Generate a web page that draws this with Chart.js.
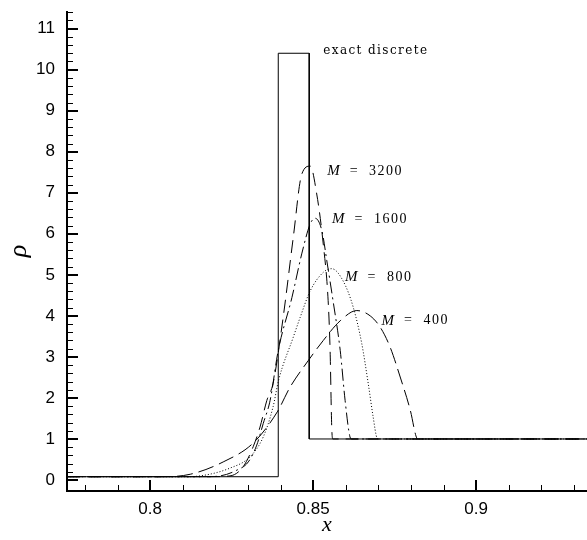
<!DOCTYPE html>
<html>
<head>
<meta charset="utf-8">
<script src="https://cdn.jsdelivr.net/npm/chart.js@4/dist/chart.umd.min.js"></script>
<style>
  html, body { margin: 0; padding: 0; background: #fff; }
  #wrap { width: 587px; height: 540px; }
</style>
</head>
<body>
<div id="wrap"><canvas id="rhoChart" width="587" height="540"></canvas></div>
<script>
// exact discrete solution (step profile)
const exactX = [0.7745, 0.8393, 0.8393, 0.8488, 0.8488, 0.934];
const exactY = [0.08, 0.08, 10.4, 10.4, 1.0, 1.0];

// numerical solutions
const m3200X = [0.7745, 0.818, 0.8245, 0.8285, 0.8316, 0.8337, 0.8358, 0.8377, 0.8408, 0.8439, 0.8465, 0.8491, 0.8511, 0.8531, 0.8546, 0.8552, 0.8557, 0.8560, 0.934];
const m3200Y = [0.08, 0.08, 0.10, 0.32, 0.81, 1.29, 1.94, 2.35, 3.96, 5.91, 7.45, 7.65, 6.97, 5.75, 4.37, 3.16, 1.29, 1.0, 1.0];

const m1600X = [0.7745, 0.816, 0.8205, 0.8266, 0.8301, 0.8327, 0.8347, 0.8368, 0.8393, 0.8435, 0.8465, 0.8491, 0.8506, 0.8527, 0.8542, 0.8561, 0.8583, 0.8598, 0.8613, 0.8618, 0.934];
const m1600Y = [0.08, 0.08, 0.09, 0.24, 0.44, 0.85, 1.38, 1.94, 3.16, 4.45, 5.51, 6.24, 6.38, 6.07, 5.34, 4.37, 3.16, 1.94, 1.05, 1.0, 1.0];

const m800X = [0.7745, 0.810, 0.8153, 0.8245, 0.8307, 0.8347, 0.8377, 0.8394, 0.8439, 0.8460, 0.8491, 0.8531, 0.8557, 0.8592, 0.8623, 0.8649, 0.8669, 0.8684, 0.8696, 0.8700, 0.934];
const m800Y = [0.08, 0.08, 0.10, 0.29, 0.57, 1.05, 1.78, 2.43, 3.48, 3.96, 4.61, 5.06, 5.15, 4.85, 4.21, 3.33, 2.35, 1.54, 1.02, 1.0, 1.0];

const m400X = [0.7745, 0.804, 0.8123, 0.8224, 0.8316, 0.8390, 0.8429, 0.8485, 0.8531, 0.8583, 0.8634, 0.8675, 0.8706, 0.8736, 0.8767, 0.8798, 0.8818, 0.8822, 0.934];
const m400Y = [0.08, 0.08, 0.14, 0.44, 0.90, 1.66, 2.26, 2.91, 3.40, 3.88, 4.13, 4.00, 3.72, 3.24, 2.51, 1.70, 1.02, 1.0, 1.0];

// axis ticks
const xMajorTicks = [0.8, 0.85, 0.9];
const yMajorTicks = [0, 1, 2, 3, 4, 5, 6, 7, 8, 9, 10, 11];

// curve labels
const labelNames = ['3200', '1600', '800', '400'];
const labelX = [0.8543, 0.8558, 0.8598, 0.8710];
const labelY = [7.52, 6.36, 4.95, 3.88];
const exactLabel = 'exact discrete';
const exactLabelPos = [0.8531, 10.47];

function toPoints(xs, ys) {
    return xs.map((x, i) => ({ x: x, y: ys[i] }));
}

function makeMinor(from, to, step) {
    let out = [];
    for (let v = from; v <= to + 1e-9; v += step) out.push(Math.round(v * 1000) / 1000);
    return out;
}
const xMinorTicks = makeMinor(0.78, 0.93, 0.01);
const yMinorTicks = makeMinor(0, 11.4, 0.2);

// axis lines and inward tick marks, like the original plot
const axisPlugin = {
    id: 'axisPlugin',
    afterDatasetsDraw(chart) {
        const ctx = chart.ctx;
        const area = chart.chartArea;
        const xs = chart.scales.x, ys = chart.scales.y;
        ctx.save();
        ctx.strokeStyle = '#000';

        ctx.lineWidth = 1;
        xMinorTicks.forEach(v => {
            let p = Math.round(xs.getPixelForValue(v)) + 0.5;
            ctx.beginPath(); ctx.moveTo(p, area.bottom); ctx.lineTo(p, area.bottom - 6); ctx.stroke();
        });
        yMinorTicks.forEach(v => {
            let p = Math.round(ys.getPixelForValue(v)) + 0.5;
            if (p < area.top) return;
            ctx.beginPath(); ctx.moveTo(area.left, p); ctx.lineTo(area.left + 6, p); ctx.stroke();
        });

        ctx.lineWidth = 2;
        xMajorTicks.forEach(v => {
            let p = Math.round(xs.getPixelForValue(v));
            ctx.beginPath(); ctx.moveTo(p, area.bottom); ctx.lineTo(p, area.bottom - 11); ctx.stroke();
        });
        yMajorTicks.forEach(v => {
            let p = Math.round(ys.getPixelForValue(v));
            ctx.beginPath(); ctx.moveTo(area.left, p); ctx.lineTo(area.left + 11, p); ctx.stroke();
        });

        ctx.beginPath();
        ctx.moveTo(area.left, area.top);
        ctx.lineTo(area.left, area.bottom);
        ctx.lineTo(area.right, area.bottom);
        ctx.stroke();

        // curve labels
        ctx.fillStyle = '#000';
        ctx.textBaseline = 'middle';
        ctx.textAlign = 'left';
        ctx.font = '12px "DejaVu Serif"';
        ctx.letterSpacing = '1.4px';
        ctx.fillText(exactLabel, xs.getPixelForValue(exactLabelPos[0]), ys.getPixelForValue(exactLabelPos[1]));

        labelNames.forEach((name, i) => {
            let px = xs.getPixelForValue(labelX[i]);
            let py = ys.getPixelForValue(labelY[i]);
            ctx.letterSpacing = '0px';
            ctx.font = 'italic 15px "Liberation Serif"';
            ctx.fillText('M', px, py);
            let w = ctx.measureText('M').width;
            ctx.font = '14px "Liberation Serif"';
            ctx.letterSpacing = '1.5px';
            ctx.fillText('  =  ' + name, px + w, py);
        });
        ctx.restore();
    }
};

const lineBase = {
    showLine: true,
    borderColor: '#000',
    borderWidth: 1,
    pointRadius: 0,
    fill: false,
    cubicInterpolationMode: 'monotone'
};

new Chart(document.getElementById('rhoChart').getContext('2d'), {
    type: 'scatter',
    data: {
        datasets: [
            Object.assign({}, lineBase, { label: 'exact discrete', data: toPoints(exactX, exactY), cubicInterpolationMode: 'default', tension: 0 }),
            Object.assign({}, lineBase, { label: 'M = 3200', data: toPoints(m3200X, m3200Y), borderDash: [13, 7] }),
            Object.assign({}, lineBase, { label: 'M = 1600', data: toPoints(m1600X, m1600Y), borderDash: [12, 4, 2, 4] }),
            Object.assign({}, lineBase, { label: 'M = 800', data: toPoints(m800X, m800Y), borderDash: [1, 2] }),
            Object.assign({}, lineBase, { label: 'M = 400', data: toPoints(m400X, m400Y), borderDash: [16, 6] })
        ]
    },
    options: {
        responsive: false,
        animation: false,
        layout: { padding: { top: 11, right: 0, left: 0, bottom: 0 } },
        plugins: {
            legend: { display: false },
            tooltip: { enabled: false }
        },
        scales: {
            x: {
                type: 'linear',
                min: 0.7745,
                max: 0.934,
                grid: { display: false },
                border: { display: false },
                afterBuildTicks: scale => { scale.ticks = xMajorTicks.map(v => ({ value: v })); },
                afterFit: scale => { scale.height = 49; scale.paddingLeft = 0; scale.paddingRight = 0; },
                ticks: {
                    color: '#000',
                    padding: 0,
                    maxRotation: 0,
                    font: { family: '"Liberation Sans"', size: 17 },
                    callback: v => String(v)
                },
                title: {
                    display: true,
                    text: 'x',
                    color: '#000',
                    padding: { top: 0, bottom: 2 },
                    font: { family: '"Liberation Serif"', size: 22, style: 'italic' }
                }
            },
            y: {
                type: 'linear',
                min: -0.268,
                max: 11.43,
                grid: { display: false },
                border: { display: false },
                afterBuildTicks: scale => { scale.ticks = yMajorTicks.map(v => ({ value: v })); },
                afterFit: scale => { scale.width = 67; scale.paddingTop = 0; scale.paddingBottom = 0; },
                ticks: {
                    color: '#000',
                    padding: 4,
                    font: { family: '"Liberation Sans"', size: 17 },
                    callback: v => String(v)
                },
                title: {
                    display: true,
                    text: 'ρ',
                    color: '#000',
                    padding: { top: 4, bottom: 0 },
                    font: { family: '"Liberation Serif"', size: 26, style: 'italic' }
                }
            }
        }
    },
    plugins: [axisPlugin]
});
</script>
</body>
</html>
